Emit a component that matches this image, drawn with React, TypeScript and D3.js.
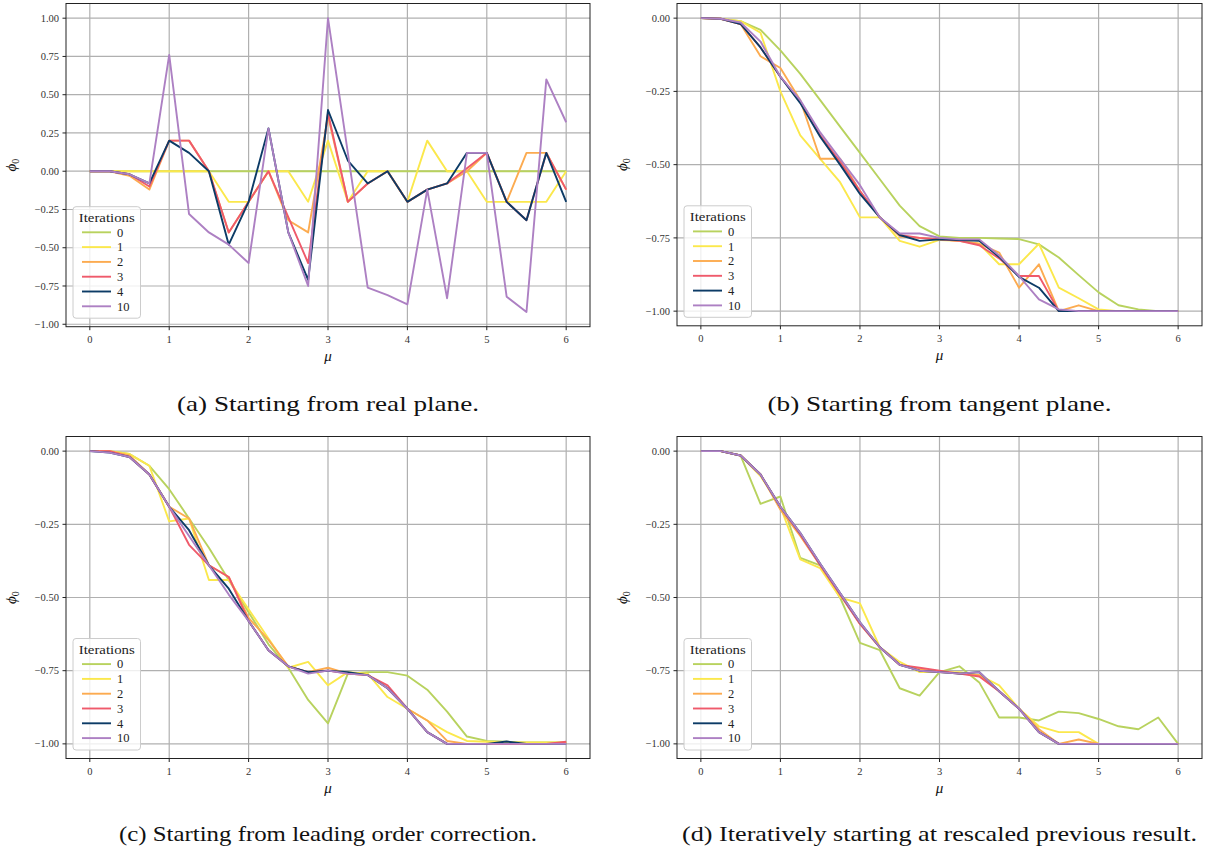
import React from "react";
import * as d3 from "d3";

const MU = [0, 0.25, 0.5, 0.75, 1, 1.25, 1.5, 1.75, 2, 2.25, 2.5, 2.75, 3, 3.25, 3.5, 3.75, 4, 4.25, 4.5, 4.75, 5, 5.25, 5.5, 5.75, 6];
const ITERATIONS = ["0", "1", "2", "3", "4", "10"];
const COLORS = ["#b8d25e", "#fbe84c", "#fcab50", "#ef5a6b", "#0c3b66", "#ad80c3"];

const X_TICKS = [0, 1, 2, 3, 4, 5, 6];
const Y_TICKS_A = [-1, -0.75, -0.5, -0.25, 0, 0.25, 0.5, 0.75, 1];
const Y_TICKS_BCD = [-1, -0.75, -0.5, -0.25, 0];

// (a) Starting from real plane
const a0 = [0, 0, 0, 0, 0, 0, 0, 0, 0, 0, 0, 0, 0, 0, 0, 0, 0, 0, 0, 0, 0, 0, 0, 0, 0];
const a1 = [0, 0, 0, 0, 0, 0, 0, -0.2, -0.2, 0, 0, -0.2, 0.2, -0.2, 0, 0, -0.2, 0.2, 0, 0, -0.2, -0.2, -0.2, -0.2, 0];
const a2 = [0, 0, -0.03, -0.12, 0.2, 0.2, 0, -0.4, -0.2, 0, -0.32, -0.4, 0.36, -0.2, -0.08, 0, -0.2, -0.12, -0.08, 0, 0.12, -0.2, 0.12, 0.12, -0.12];
const a3 = [0, 0, -0.02, -0.1, 0.2, 0.2, 0, -0.4, -0.2, 0, -0.3, -0.6, 0.38, -0.2, -0.08, 0, -0.2, -0.12, -0.08, 0.02, 0.12, -0.2, -0.32, 0.12, -0.12];
const a4 = [0, 0, -0.02, -0.08, 0.2, 0.12, 0, -0.48, -0.2, 0.28, -0.4, -0.71, 0.4, 0.07, -0.08, 0, -0.2, -0.12, -0.08, 0.12, 0.12, -0.2, -0.32, 0.12, -0.2];
const a10 = [0, 0, -0.02, -0.08, 0.76, -0.28, -0.4, -0.48, -0.6, 0.28, -0.4, -0.75, 1.0, 0.12, -0.76, -0.81, -0.87, -0.12, -0.83, 0.12, 0.12, -0.82, -0.92, 0.6, 0.32];

// (b) Starting from tangent plane
const b0 = [0, -0.003, -0.01, -0.04, -0.11, -0.19, -0.28, -0.37, -0.46, -0.55, -0.64, -0.71, -0.745, -0.75, -0.75, -0.752, -0.754, -0.772, -0.817, -0.877, -0.936, -0.98, -0.994, -1.0, -1.0];
const b1 = [0, -0.002, -0.01, -0.05, -0.25, -0.4, -0.48, -0.56, -0.68, -0.68, -0.76, -0.78, -0.757, -0.76, -0.77, -0.84, -0.84, -0.77, -0.92, -0.956, -0.994, -1.0, -1.0, -1.0, -1.0];
const b2 = [0, -0.002, -0.02, -0.13, -0.17, -0.28, -0.48, -0.48, -0.59, -0.68, -0.745, -0.75, -0.755, -0.76, -0.77, -0.8, -0.92, -0.84, -1.0, -0.98, -1.0, -1.0, -1.0, -1.0, -1.0];
const b3 = [0, -0.002, -0.02, -0.1, -0.2, -0.285, -0.4, -0.49, -0.59, -0.68, -0.74, -0.75, -0.755, -0.76, -0.775, -0.82, -0.88, -0.88, -1.0, -1.0, -1.0, -1.0, -1.0, -1.0, -1.0];
const b4 = [0, -0.002, -0.02, -0.1, -0.2, -0.29, -0.405, -0.5, -0.6, -0.68, -0.74, -0.76, -0.755, -0.757, -0.76, -0.815, -0.883, -0.92, -1.0, -1.0, -1.0, -1.0, -1.0, -1.0, -1.0];
const b10 = [0, -0.002, -0.015, -0.08, -0.2, -0.28, -0.39, -0.48, -0.57, -0.68, -0.735, -0.735, -0.75, -0.755, -0.755, -0.81, -0.88, -0.96, -0.994, -1.0, -1.0, -1.0, -1.0, -1.0, -1.0];

// (c) Starting from leading order correction
const c0 = [0, 0, -0.01, -0.05, -0.13, -0.23, -0.33, -0.44, -0.55, -0.66, -0.74, -0.85, -0.93, -0.76, -0.755, -0.755, -0.767, -0.815, -0.89, -0.975, -0.99, -0.993, -0.995, -0.995, -0.995];
const c1 = [0, 0, -0.01, -0.05, -0.24, -0.23, -0.44, -0.44, -0.54, -0.64, -0.74, -0.72, -0.8, -0.755, -0.76, -0.84, -0.88, -0.92, -0.96, -0.99, -0.993, -0.995, -0.995, -0.995, -0.995];
const c2 = [0, 0, -0.015, -0.08, -0.19, -0.23, -0.39, -0.43, -0.57, -0.645, -0.735, -0.755, -0.74, -0.76, -0.765, -0.81, -0.88, -0.92, -0.99, -1.0, -1.0, -1.0, -1.0, -1.0, -0.995];
const c3 = [0, 0, -0.02, -0.08, -0.19, -0.32, -0.39, -0.43, -0.58, -0.68, -0.735, -0.755, -0.75, -0.76, -0.765, -0.8, -0.88, -0.96, -1.0, -1.0, -1.0, -1.0, -1.0, -1.0, -0.993];
const c4 = [0, -0.005, -0.02, -0.08, -0.19, -0.27, -0.39, -0.47, -0.58, -0.68, -0.735, -0.755, -0.75, -0.755, -0.765, -0.81, -0.88, -0.96, -1.0, -1.0, -1.0, -0.992, -1.0, -1.0, -1.0];
const c10 = [0, -0.005, -0.02, -0.08, -0.19, -0.29, -0.39, -0.49, -0.58, -0.68, -0.735, -0.76, -0.75, -0.76, -0.765, -0.81, -0.88, -0.96, -1.0, -1.0, -1.0, -1.0, -1.0, -1.0, -1.0];

// (d) Iteratively starting at rescaled previous result
const d0 = [0, 0, -0.015, -0.18, -0.155, -0.365, -0.39, -0.5, -0.655, -0.68, -0.81, -0.835, -0.755, -0.735, -0.79, -0.91, -0.91, -0.92, -0.89, -0.895, -0.915, -0.94, -0.95, -0.91, -1.0];
const d1 = [0, 0, -0.015, -0.085, -0.19, -0.37, -0.4, -0.5, -0.52, -0.67, -0.72, -0.755, -0.755, -0.755, -0.765, -0.8, -0.88, -0.94, -0.96, -0.96, -1.0, -1.0, -1.0, -1.0, -1.0];
const d2 = [0, 0, -0.015, -0.08, -0.2, -0.29, -0.39, -0.49, -0.59, -0.67, -0.73, -0.745, -0.755, -0.76, -0.765, -0.82, -0.88, -0.95, -1.0, -0.985, -1.0, -1.0, -1.0, -1.0, -1.0];
const d3v = [0, 0, -0.015, -0.08, -0.19, -0.285, -0.39, -0.49, -0.59, -0.67, -0.73, -0.74, -0.75, -0.76, -0.77, -0.82, -0.88, -0.96, -1.0, -1.0, -1.0, -1.0, -1.0, -1.0, -1.0];
const d4 = [0, 0, -0.015, -0.08, -0.19, -0.28, -0.385, -0.485, -0.585, -0.67, -0.73, -0.75, -0.755, -0.76, -0.755, -0.82, -0.88, -0.96, -1.0, -1.0, -1.0, -1.0, -1.0, -1.0, -1.0];
const d10 = [0, 0, -0.015, -0.08, -0.19, -0.28, -0.385, -0.485, -0.585, -0.67, -0.73, -0.75, -0.755, -0.76, -0.755, -0.82, -0.88, -0.96, -1.0, -1.0, -1.0, -1.0, -1.0, -1.0, -1.0];

const CAPTIONS = [
  "(a) Starting from real plane.",
  "(b) Starting from tangent plane.",
  "(c) Starting from leading order correction.",
  "(d) Iteratively starting at rescaled previous result.",
];

const SERIF = "Liberation Serif, Times New Roman, Times, serif";

type Box = { left: number; right: number; top: number; bottom: number };

function Panel({ box, series, yTicks, caption, capLen, capY }: { box: Box; series: number[][]; yTicks: number[]; caption: string; capLen: number; capY: number }) {
  const all = series.flat();
  const [lo, hi] = d3.extent(all) as [number, number];
  const pad = (hi - lo) * 0.05;
  const y = d3.scaleLinear().domain([lo - pad, hi + pad]).range([box.bottom, box.top]);
  const xMin = d3.min(MU) as number;
  const xMax = d3.max(MU) as number;
  const xp = (xMax - xMin) * 0.05;
  const x = d3.scaleLinear().domain([xMin - xp, xMax + xp]).range([box.left, box.right]);
  const line = d3
    .line<number>()
    .x((_, i) => x(MU[i]))
    .y((v) => y(v));
  const fmt = d3.format(".2f");
  const cx = (box.left + box.right) / 2;
  const cy = (box.top + box.bottom) / 2;

  const lg = { left: box.left + 7, bottom: box.bottom - 8.5, w: 67.5, h: 111.5 };
  const lgTop = lg.bottom - lg.h;

  return (
    <g>
      {X_TICKS.map((t) => (
        <line key={"gx" + t} x1={x(t)} x2={x(t)} y1={box.top} y2={box.bottom} stroke="#b0b0b0" strokeWidth={1.2} />
      ))}
      {yTicks.map((t) => (
        <line key={"gy" + t} x1={box.left} x2={box.right} y1={y(t)} y2={y(t)} stroke="#b0b0b0" strokeWidth={1.2} />
      ))}
      {series.map((s, k) => (
        <path key={"s" + k} d={line(s) || ""} fill="none" stroke={COLORS[k]} strokeWidth={1.9} strokeLinejoin="round" />
      ))}
      <rect x={box.left} y={box.top} width={box.right - box.left} height={box.bottom - box.top} fill="none" stroke="#222" strokeWidth={1} />
      {X_TICKS.map((t) => (
        <g key={"xt" + t}>
          <line x1={x(t)} x2={x(t)} y1={box.bottom} y2={box.bottom + 3.5} stroke="#222" strokeWidth={1} />
          <text x={x(t)} y={box.bottom + 16} textAnchor="middle" fontSize={10.5} style={{ fontFamily: SERIF }} fill="#333">
            {t}
          </text>
        </g>
      ))}
      {yTicks.map((t) => (
        <g key={"yt" + t}>
          <line x1={box.left - 3.5} x2={box.left} y1={y(t)} y2={y(t)} stroke="#222" strokeWidth={1} />
          <text x={box.left - 7} y={y(t) + 3.6} textAnchor="end" fontSize={10.5} style={{ fontFamily: SERIF }} fill="#333">
            {fmt(t)}
          </text>
        </g>
      ))}
      <text x={cx} y={box.bottom + 34} textAnchor="middle" fontSize={15} fontStyle="italic" style={{ fontFamily: SERIF }} fill="#111">
        μ
      </text>
      <text transform={`translate(${box.left - 50},${cy}) rotate(-90)`} textAnchor="middle" fontSize={15} fontStyle="italic" style={{ fontFamily: SERIF }} fill="#111">
        ϕ<tspan fontSize={10} fontStyle="normal" dy={3}>0</tspan>
      </text>
      <rect x={lg.left} y={lgTop} width={lg.w} height={lg.h} rx={3} fill="white" fillOpacity={0.8} stroke="#cccccc" strokeWidth={1} />
      <text x={lg.left + lg.w / 2} y={lgTop + 15} textAnchor="middle" fontSize={12.5} style={{ fontFamily: SERIF }} fill="#222" textLength={56} lengthAdjust="spacingAndGlyphs">
        Iterations
      </text>
      {ITERATIONS.map((lab, k) => {
        const yy = lgTop + 25.6 + k * 14.8;
        return (
          <g key={"lg" + k}>
            <line x1={lg.left + 9} x2={lg.left + 38} y1={yy} y2={yy} stroke={COLORS[k]} strokeWidth={1.9} />
            <text x={lg.left + 44} y={yy + 4.3} fontSize={12.5} style={{ fontFamily: SERIF }} fill="#222">
              {lab}
            </text>
          </g>
        );
      })}
      <text x={cx} y={capY} textAnchor="middle" fontSize={21} style={{ fontFamily: SERIF }} fill="#111" textLength={capLen} lengthAdjust="spacingAndGlyphs">
        {caption}
      </text>
    </g>
  );
}

export default function App() {
  const boxA: Box = { left: 66, right: 590, top: 3.5, bottom: 326.7 };
  const boxB: Box = { left: 677, right: 1202, top: 3.5, bottom: 325.8 };
  const boxC: Box = { left: 66, right: 590, top: 436.5, bottom: 758.5 };
  const boxD: Box = { left: 677, right: 1202, top: 436.5, bottom: 758.5 };
  return (
    <svg width={1209} height={855} style={{ position: "absolute", left: 0, top: 0, background: "white" }}>
      <rect x={0} y={0} width={1209} height={855} fill="white" />
      <Panel box={boxA} series={[a0, a1, a2, a3, a4, a10]} yTicks={Y_TICKS_A} caption={CAPTIONS[0]} capLen={302} capY={411} />
      <Panel box={boxB} series={[b0, b1, b2, b3, b4, b10]} yTicks={Y_TICKS_BCD} caption={CAPTIONS[1]} capLen={344} capY={411} />
      <Panel box={boxC} series={[c0, c1, c2, c3, c4, c10]} yTicks={Y_TICKS_BCD} caption={CAPTIONS[2]} capLen={418} capY={841} />
      <Panel box={boxD} series={[d0, d1, d2, d3v, d4, d10]} yTicks={Y_TICKS_BCD} caption={CAPTIONS[3]} capLen={515} capY={841} />
    </svg>
  );
}
